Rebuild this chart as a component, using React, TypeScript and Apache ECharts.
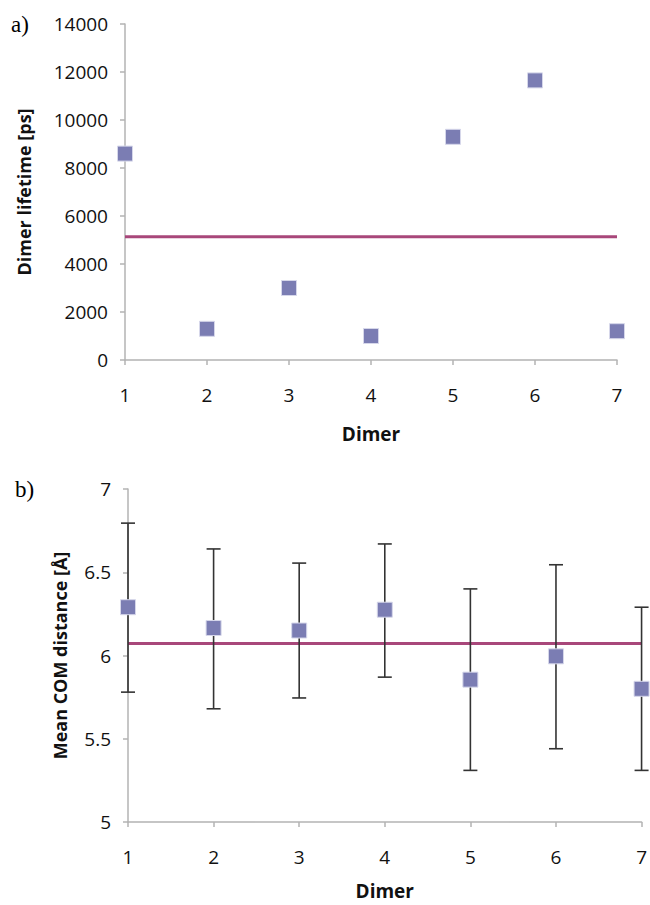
import React, { useEffect, useRef } from "react";
import * as echarts from "echarts";

const dimers = [1, 2, 3, 4, 5, 6, 7];
const lifetimes = [8600, 1300, 3000, 1000, 9300, 11650, 1200];
const meanLifetime = 5140;
const comDistance = [6.29, 6.165, 6.15, 6.275, 5.855, 5.995, 5.8];
const comLow = [5.78, 5.68, 5.745, 5.87, 5.31, 5.44, 5.31];
const comHigh = [6.795, 6.64, 6.555, 6.67, 6.4, 6.545, 6.29];
const meanDistance = 6.072;
const lifetimeTicks = { min: 0, max: 14000, interval: 2000 };
const distanceTicks = { min: 5, max: 7, interval: 0.5 };

const FONT = "Open Sans";
const AXIS_COLOR = "#b3b3b3";
const MARKER = "#7b7db3";
const MEAN = "#a8477a";

export default function App() {
  const ref = useRef<HTMLDivElement>(null);
  useEffect(() => {
    if (!ref.current) return;
    const chart = echarts.init(ref.current, undefined, { renderer: "svg" });
    const xAxisBase = (gridIndex: number, gap: number) => ({
      gridIndex,
      type: "value",
      min: 1,
      max: 7,
      interval: 1,
      name: "Dimer",
      nameLocation: "middle",
      nameGap: gap,
      nameTextStyle: { fontFamily: FONT, fontWeight: "bold", fontSize: 19, color: "#111" },
      axisLine: { show: true, lineStyle: { color: AXIS_COLOR, width: 1.5 } },
      axisTick: { show: true, length: 5, lineStyle: { color: AXIS_COLOR, width: 1.5 } },
      axisLabel: { fontFamily: FONT, fontSize: 19, color: "#111", margin: 25 },
      splitLine: { show: false },
    });
    const yAxisBase = (gridIndex: number, ticks: any, name: string, gap: number) => ({
      gridIndex,
      type: "value",
      min: ticks.min,
      max: ticks.max,
      interval: ticks.interval,
      name,
      nameLocation: "middle",
      nameGap: gap,
      nameTextStyle: { fontFamily: FONT, fontWeight: "bold", fontSize: 18, color: "#111" },
      axisLine: { show: true, lineStyle: { color: AXIS_COLOR, width: 1.5 } },
      axisTick: { show: true, length: 5, lineStyle: { color: AXIS_COLOR, width: 1.5 } },
      axisLabel: {
        fontFamily: FONT,
        fontSize: 19,
        color: "#111",
        margin: 17,
        formatter: (v: number) => String(v),
      },
      splitLine: { show: false },
    });
    const errData = dimers.map((d, i) => [d, comLow[i], comHigh[i]]);
    chart.setOption({
      animation: false,
      backgroundColor: "#ffffff",
      grid: [
        { left: 125, right: 33, top: 24, height: 336 },
        { left: 128, right: 3, top: 489, height: 333 },
      ],
      xAxis: [xAxisBase(0, 64), xAxisBase(1, 59)],
      yAxis: [
        yAxisBase(0, lifetimeTicks, "Dimer lifetime [ps]", 92),
        yAxisBase(1, distanceTicks, "Mean COM distance [Å]", 59),
      ],
      graphic: [
        { type: "text", left: 11, top: 13, style: { text: "a)", fontFamily: "Liberation Serif", fontSize: 23, fill: "#000" } },
        { type: "text", left: 15, top: 478, style: { text: "b)", fontFamily: "Liberation Serif", fontSize: 23, fill: "#000" } },
      ],
      series: [
        {
          type: "line",
          xAxisIndex: 0,
          yAxisIndex: 0,
          data: [[dimers[0], meanLifetime], [dimers[dimers.length - 1], meanLifetime]],
          symbol: "none",
          lineStyle: { color: MEAN, width: 3 },
          z: 2,
        },
        {
          type: "scatter",
          xAxisIndex: 0,
          yAxisIndex: 0,
          data: dimers.map((d, i) => [d, lifetimes[i]]),
          symbol: "rect",
          symbolSize: 15,
          itemStyle: { color: MARKER, borderColor: "#d6d7ea", borderWidth: 1, opacity: 1 },
          z: 3,
        },
        {
          type: "line",
          xAxisIndex: 1,
          yAxisIndex: 1,
          data: [[dimers[0], meanDistance], [dimers[dimers.length - 1], meanDistance]],
          symbol: "none",
          lineStyle: { color: MEAN, width: 3 },
          z: 2,
        },
        {
          type: "custom",
          xAxisIndex: 1,
          yAxisIndex: 1,
          data: errData,
          z: 3,
          renderItem: (params: any, api: any) => {
            const x = api.value(0);
            const lo = api.coord([x, api.value(1)]);
            const hi = api.coord([x, api.value(2)]);
            const w = 7;
            const style = { stroke: "#333", lineWidth: 1.6 };
            return {
              type: "group",
              children: [
                { type: "line", shape: { x1: lo[0], y1: lo[1], x2: hi[0], y2: hi[1] }, style },
                { type: "line", shape: { x1: lo[0] - w, y1: lo[1], x2: lo[0] + w, y2: lo[1] }, style },
                { type: "line", shape: { x1: hi[0] - w, y1: hi[1], x2: hi[0] + w, y2: hi[1] }, style },
              ],
            };
          },
        },
        {
          type: "scatter",
          xAxisIndex: 1,
          yAxisIndex: 1,
          data: dimers.map((d, i) => [d, comDistance[i]]),
          symbol: "rect",
          symbolSize: 15,
          itemStyle: { color: MARKER, borderColor: "#d6d7ea", borderWidth: 1, opacity: 1 },
          z: 4,
        },
      ],
    });
    return () => chart.dispose();
  }, []);
  return (
    <div
      ref={ref}
      style={{ position: "fixed", left: 0, top: 0, width: 650, height: 905, background: "#fff" }}
    />
  );
}
